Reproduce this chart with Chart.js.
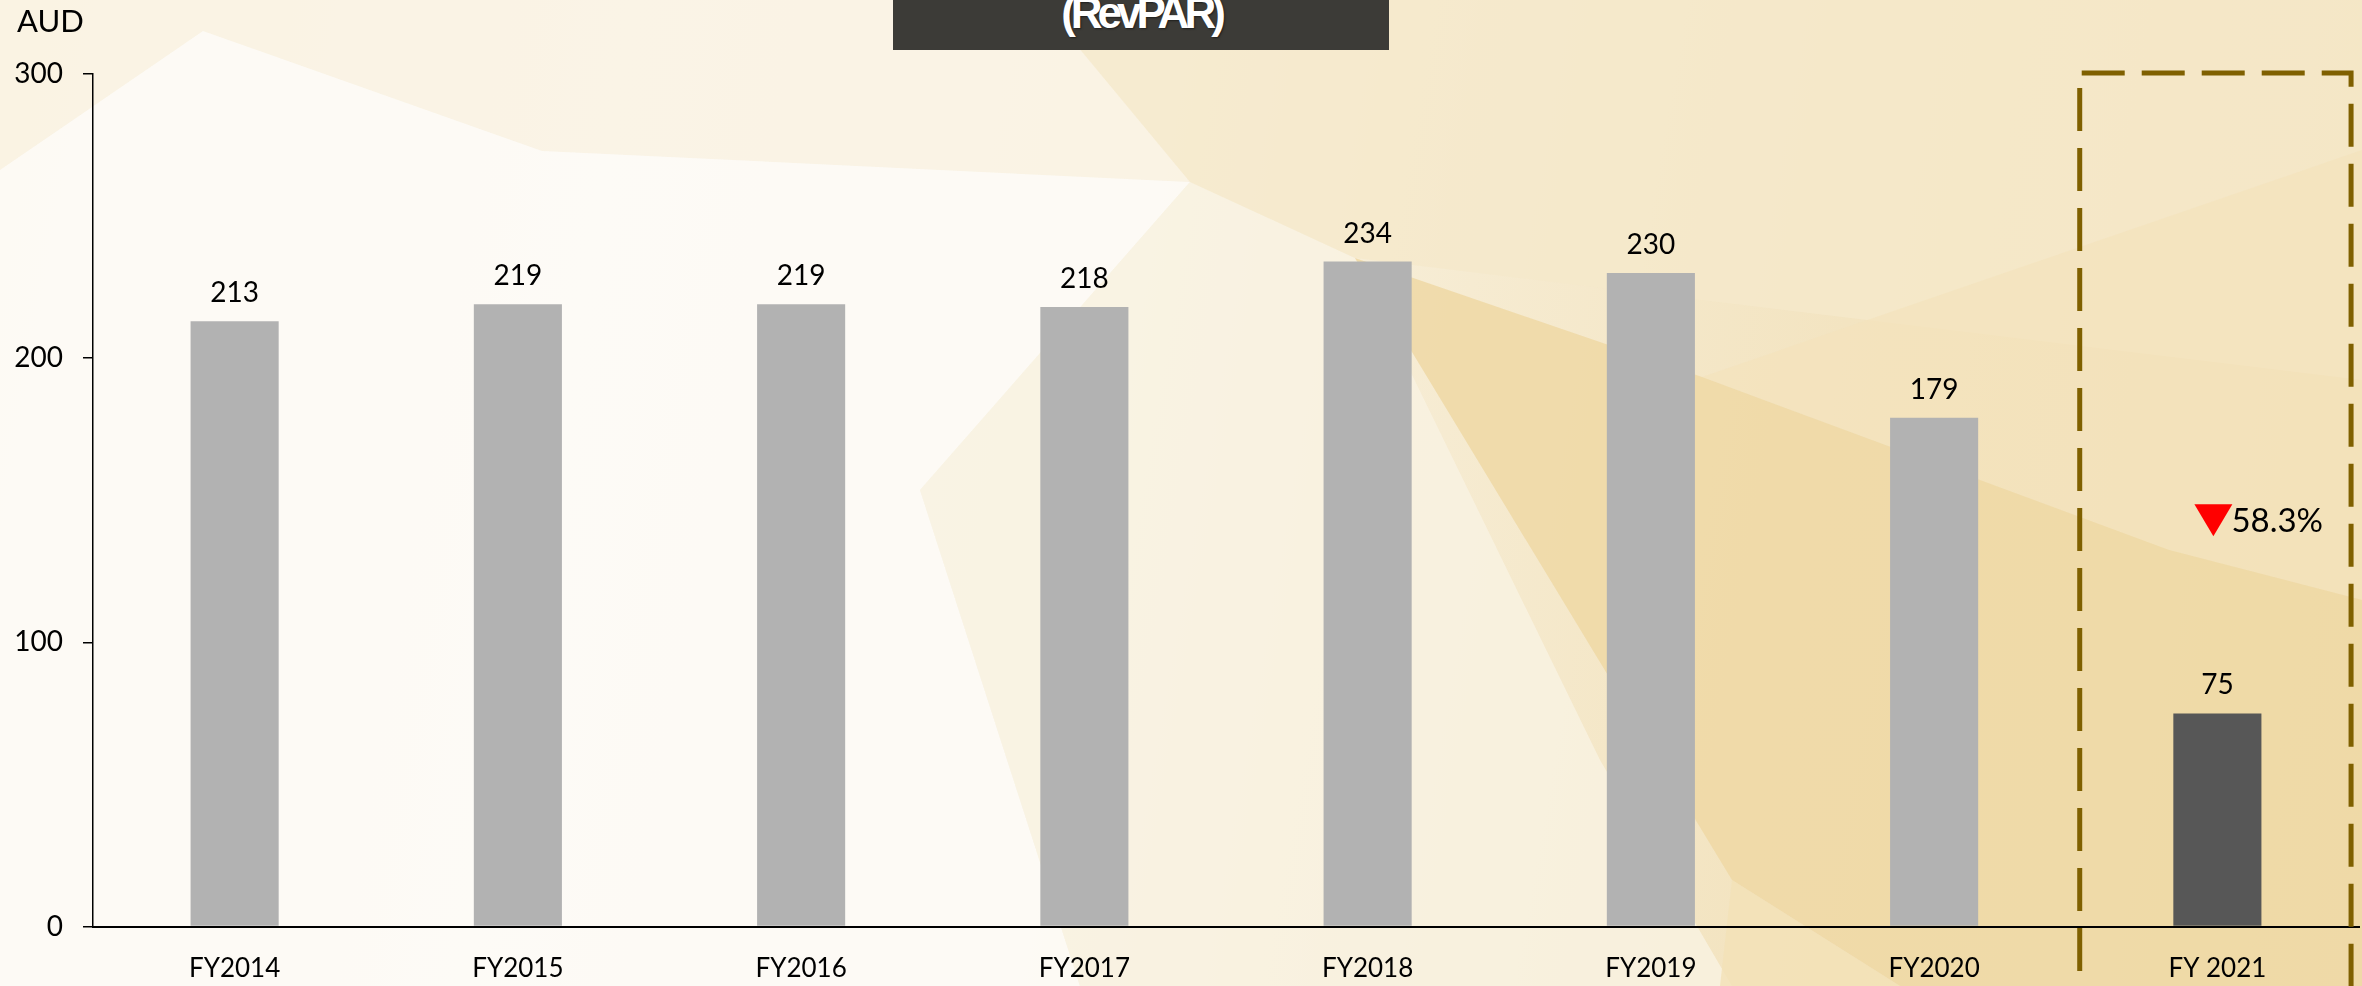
<!DOCTYPE html>
<html>
<head>
<meta charset="utf-8">
<script src="https://cdn.jsdelivr.net/npm/chart.js@4.4.1/dist/chart.umd.min.js"></script>
<style>
html,body{margin:0;padding:0;width:2362px;height:986px;overflow:hidden;background:#f8f0de}
#wrap{position:relative;width:2362px;height:986px;overflow:hidden;
  background:linear-gradient(100deg,#f9f2e1 0%,#fbf7ee 25%,#faf4e6 45%,#f6ebd1 60%,#f3e4c1 75%,#f1dfb2 100%)}
.poly{position:absolute;left:0;top:0;width:2362px;height:986px}
#p1{background:#fdfbf6;opacity:.9;clip-path:polygon(0px 170px,203px 31px,542px 151px,1190px 182px,920px 490px,1080px 986px,0px 986px)}
#p6{background:#f9f2e2;opacity:.8;clip-path:polygon(920px 490px,1190px 182px,1355px 258px,1600px 760px,1732px 986px,1080px 986px)}
#p2{background:#f5e9cb;opacity:.8;clip-path:polygon(1039px 0px,2362px 0px,2362px 380px,1355px 258px,1190px 182px)}
#p3{background:#eed8a4;opacity:.85;clip-path:polygon(1355px 258px,1702px 377px,2169px 550px,2362px 600px,2362px 986px,1900px 986px,1732px 880px)}
#p7{background:#f2e1b6;opacity:.8;clip-path:polygon(1732px 880px,1900px 986px,1720px 986px)}
#p4{background:#f3e3bc;opacity:.7;clip-path:polygon(1702px 377px,2362px 150px,2362px 600px,2169px 550px)}
#p5{background:#faf3e3;opacity:.8;clip-path:polygon(0px 0px,1039px 0px,1190px 182px,542px 151px,203px 31px,0px 170px)}
#c{position:absolute;left:0;top:0}
#titlebox{position:absolute;left:893px;top:0;width:496px;height:50px;background:#3c3b37;overflow:hidden}
#titlebox span{position:absolute;left:0;right:0;top:-9px;text-align:center;color:#fff;font:bold 44px 'Liberation Sans',Arial,sans-serif;letter-spacing:-5px;line-height:44px;white-space:nowrap;text-shadow:1px 1px 2px rgba(0,0,0,.5)}
#aud{position:absolute;left:17px;top:5px;font:31px Lato,sans-serif;line-height:31px;color:#000}
</style>
</head>
<body>
<div id="wrap">
  <div class="poly" id="p5"></div>
  <div class="poly" id="p1"></div>
  <div class="poly" id="p6"></div>
  <div class="poly" id="p2"></div>
  <div class="poly" id="p4"></div>
  <div class="poly" id="p3"></div>
  <div class="poly" id="p7"></div>
  <canvas id="c" width="2362" height="986"></canvas>
  <div id="titlebox"><span>(RevPAR)</span></div>
  <div id="aud">AUD</div>
</div>
<script>
// ---- data ----
const categories = ['FY2014','FY2015','FY2016','FY2017','FY2018','FY2019','FY2020','FY 2021'];
const revpar = [213, 219, 219, 218, 234, 230, 179, 75];
const barColors = ['#b2b2b2','#b2b2b2','#b2b2b2','#b2b2b2','#b2b2b2','#b2b2b2','#b2b2b2','#575757'];
const yTickValues = [0, 100, 200, 300];
const changeText = ['58.3%'];
const highlightIndex = [7];

const FONT = 'Lato, "Open Sans", sans-serif';

const labelPlugin = {
  id: 'valueLabels',
  afterDatasetsDraw(chart) {
    const ctx = chart.ctx;
    const meta = chart.getDatasetMeta(0);
    ctx.save();
    ctx.font = '28px ' + FONT;
    ctx.fillStyle = '#000';
    ctx.textAlign = 'center';
    ctx.textBaseline = 'alphabetic';
    meta.data.forEach((bar, i) => {
      ctx.fillText(String(revpar[i]), bar.x, bar.y - 19);
    });
    ctx.restore();
  }
};

const highlightPlugin = {
  id: 'highlight',
  afterDraw(chart) {
    const ctx = chart.ctx;
    const xs = chart.scales.x, ys = chart.scales.y;
    const idx = highlightIndex[0];
    const cx = xs.getPixelForValue(idx);
    const catW = xs.getPixelForValue(1) - xs.getPixelForValue(0);
    const left = cx - 0.486 * catW;
    const right = cx + 0.472 * catW;
    const top = ys.getPixelForValue(300) - 1;
    const bottom = chart.height + 20;
    ctx.save();
    ctx.strokeStyle = '#7f6000';
    ctx.lineWidth = 5;
    ctx.setLineDash([43, 17]);
    ctx.beginPath();
    ctx.lineDashOffset = 0;
    ctx.moveTo(left + 2, top);
    ctx.lineTo(right, top);
    ctx.lineTo(right, bottom);
    ctx.stroke();
    ctx.beginPath();
    ctx.lineDashOffset = 45;
    ctx.moveTo(left, top);
    ctx.lineTo(left, bottom);
    ctx.stroke();
    ctx.restore();

    const ym = ys.getPixelForValue(143);
    ctx.save();
    ctx.fillStyle = '#ff0000';
    ctx.beginPath();
    ctx.moveTo(cx - 23, ym - 16);
    ctx.lineTo(cx + 15, ym - 16);
    ctx.lineTo(cx - 4, ym + 16);
    ctx.closePath();
    ctx.fill();
    ctx.fillStyle = '#000';
    ctx.font = '33px ' + FONT;
    ctx.textAlign = 'left';
    ctx.textBaseline = 'alphabetic';
    ctx.fillText(changeText[0], cx + 14, ym + 12);
    ctx.restore();
  }
};

new Chart(document.getElementById('c'), {
  type: 'bar',
  data: {
    labels: categories,
    datasets: [{
      data: revpar,
      backgroundColor: barColors,
      borderWidth: 0,
      barPercentage: 0.311,
      categoryPercentage: 1.0
    }]
  },
  options: {
    responsive: false,
    animation: false,
    devicePixelRatio: 1,
    layout: { padding: { left: 0, right: 3, top: 74, bottom: 0 } },
    plugins: { legend: { display: false }, tooltip: { enabled: false }, title: { display: false } },
    scales: {
      x: {
        grid: { display: false, drawTicks: false },
        border: { display: true, color: '#000', width: 2 },
        ticks: { color: '#000', font: { family: FONT, size: 26 }, padding: 27, maxRotation: 0, autoSkip: false },
        afterFit(s) { s.height = 59.5; }
      },
      y: {
        min: 0, max: 300,
        afterBuildTicks(s) { s.ticks = yTickValues.map(v => ({ value: v })); },
        grid: { drawOnChartArea: false, drawTicks: true, tickLength: 10, color: '#000', lineWidth: 1.5 },
        border: { display: true, color: '#000', width: 1.5 },
        ticks: { color: '#000', font: { family: FONT, size: 28 }, padding: 20 },
        afterFit(s) { s.width = 93; }
      }
    }
  },
  plugins: [labelPlugin, highlightPlugin]
});
</script>
</body>
</html>
